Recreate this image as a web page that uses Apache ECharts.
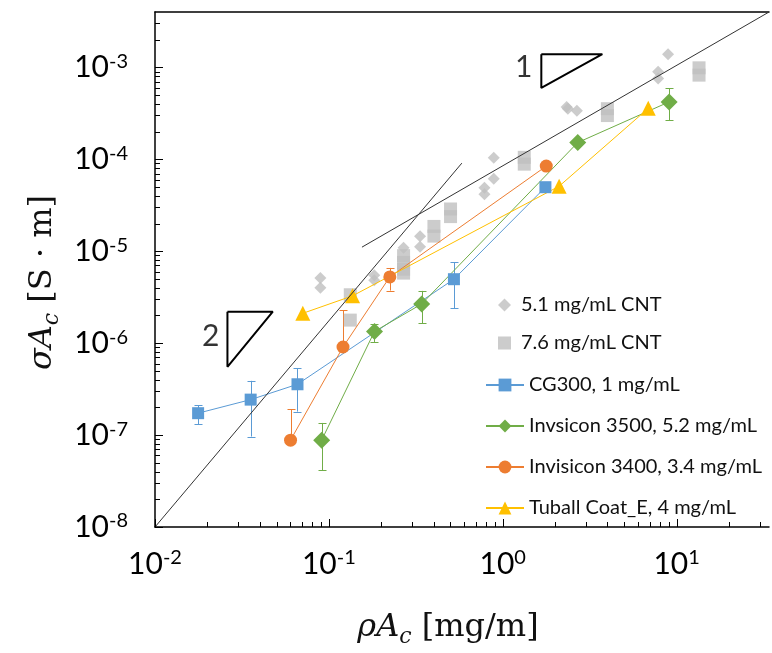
<!DOCTYPE html>
<html><head><meta charset="utf-8">
<script src="https://cdn.jsdelivr.net/npm/echarts@6/dist/echarts.min.js"></script>
<style>html,body{margin:0;padding:0;background:#fff}#c{width:772px;height:653px}</style>
</head><body><div id="c"></div>
<script>
// ---------------- data ----------------
const cnt51Name = '5.1 mg/mL CNT';
const cnt51X = [0.0894, 0.0894, 0.1824, 0.1824, 0.269, 0.3345, 0.3345, 0.785, 0.785, 0.888, 0.888, 2.33, 2.37, 2.67, 7.83, 7.83, 8.93];
const cnt51Y = [5.12e-6, 4.01e-6, 5.47e-6, 4.84e-6, 1.09e-5, 1.45e-5, 1.12e-5, 4.90e-5, 4.16e-5, 1.04e-4, 6.14e-5, 3.70e-4, 3.55e-4, 3.38e-4, 8.95e-4, 7.55e-4, 1.39e-3];

const cnt76Name = '7.6 mg/mL CNT';
const cnt76X = [0.1328, 0.1328, 0.269, 0.269, 0.269, 0.269, 0.402, 0.402, 0.501, 0.501, 1.33, 1.33, 4.0, 4.0, 13.46, 13.46];
const cnt76Y = [3.36e-6, 1.78e-6, 8.95e-6, 7.55e-6, 6.37e-6, 5.78e-6, 1.86e-5, 1.46e-5, 2.88e-5, 2.38e-5, 1.05e-4, 8.85e-5, 3.55e-4, 2.99e-4, 9.88e-4, 8.23e-4];

const cgName = 'CG300, 1 mg/mL';
const cgX  = [0.0177, 0.0355, 0.066, 0.524, 1.76];
const cgY  = [1.73e-7, 2.43e-7, 3.57e-7, 4.96e-6, 4.97e-5];
const cgLo = [1.31e-7, 9.64e-8, 1.80e-7, 2.40e-6, null];
const cgHi = [2.11e-7, 3.89e-7, 5.35e-7, 7.63e-6, null];

const i35Name = 'Invsicon 3500, 5.2 mg/mL';
const i35X  = [0.0909, 0.183, 0.342, 2.70, 9.06];
const i35Y  = [8.81e-8, 1.34e-6, 2.67e-6, 1.52e-4, 4.21e-4];
const i35Lo = [4.14e-8, 1.03e-6, 1.64e-6, null, 2.65e-4];
const i35Hi = [1.355e-7, 1.61e-6, 3.70e-6, null, 5.91e-4];

const i34Name = 'Invisicon 3400, 3.4 mg/mL';
const i34X  = [0.0602, 0.1206, 0.2242, 1.78];
const i34Y  = [8.81e-8, 9.08e-7, 5.25e-6, 8.43e-5];
const i34Lo = [8.81e-8, 9.08e-7, 3.73e-6, null];
const i34Hi = [1.92e-7, 2.29e-6, 6.58e-6, null];

const tbName = 'Tuball Coat_E, 4 mg/mL';
const tbX = [0.0708, 0.1369, 2.11, 6.87];
const tbY = [2.11e-6, 3.27e-6, 5.09e-5, 3.58e-4];

// guide lines (slope 2 and slope 1)
const slope2X = [0.01, 0.582];
const slope2Y = [1e-8, 9.08e-5];
const slope1X = [0.155, 34];
const slope1Y = [1.107e-5, 4e-3];

// slope triangles: [x left, x right, y bottom, y top]
const tri1 = [1.667, 3.74, 5.97e-4, 1.39e-3];
const tri2 = [0.0261, 0.0476, 5.53e-7, 2.2e-6];
const triLabelX = [1.32, 0.0209];
const triLabelY = [9.9e-4, 1.2e-6];
const triLabelText = ['1', '2'];

// axes
const xMin = 0.01, xMax = 34;
const yMin = 1e-8, yMax = 4e-3;
const xMajorTicks = [0.01, 0.1, 1, 10];
const xMinorTicks = [0.02,0.03,0.04,0.05,0.06,0.07,0.08,0.09, 0.2,0.3,0.4,0.5,0.6,0.7,0.8,0.9, 2,3,4,5,6,7,8,9, 20,30];
const yMajorTicks = [1e-8,1e-7,1e-6,1e-5,1e-4,1e-3];
const yMinorTicks = [];
[1e-8,1e-7,1e-6,1e-5,1e-4,1e-3].forEach(function(d){ for (let k=2;k<=9;k++){ const v=d*k; if (v<yMax) yMinorTicks.push(v);} });

const xTitle = '{i|ρA}{sub|c}{r| [mg/m]}';
const yTitle = '{i|σA}{sub|c}{r| [S · m]}';

// ---------------- chart ----------------
const FONT = 'Lato';
const pairs = (xs, ys) => xs.map((x, i) => [x, ys[i]]);

function powLabel(v) {
  const l = Math.log10(v);
  const e = Math.round(l);
  if (Math.abs(l - e) > 1e-6) return '';
  return '{b|10}{s|' + (e < 0 ? '-' + (-e) : e) + '}';
}
const labelRich = {
  b: {fontFamily: FONT, fontSize: 30, color: '#000', lineHeight: 32},
  s: {fontFamily: FONT, fontSize: 20, color: '#000', lineHeight: 18, verticalAlign: 'top'}
};
const titleRich = {
  i: {fontFamily: 'DejaVu Serif', fontStyle: 'italic', fontSize: 32, color: '#111', lineHeight: 40},
  sub: {fontFamily: 'DejaVu Serif', fontStyle: 'italic', fontSize: 22, color: '#111', lineHeight: 26, verticalAlign: 'bottom'},
  r: {fontFamily: 'DejaVu Serif', fontSize: 32, color: '#111', lineHeight: 40}
};

function errSeries(color, xs, lo, hi) {
  const data = [];
  xs.forEach((x, i) => { if (lo[i] != null && hi[i] != null) data.push([x, lo[i], hi[i]]); });
  return {
    type: 'custom', coordinateSystem: 'cartesian2d', z: 1, silent: true,
    encode: {x: 0, y: [1, 2]},
    renderItem: function (params, api) {
      const x = api.value(0);
      const p1 = api.coord([x, api.value(1)]);
      const p2 = api.coord([x, api.value(2)]);
      const cx = Math.round(p1[0]) + 0.5, w = 4;
      const st = {stroke: color, lineWidth: 1};
      return {type: 'group', children: [
        {type: 'line', shape: {x1: cx, y1: p1[1], x2: cx, y2: p2[1]}, style: st},
        {type: 'line', shape: {x1: cx - w, y1: Math.round(p1[1]) + 0.5, x2: cx + w, y2: Math.round(p1[1]) + 0.5}, style: st},
        {type: 'line', shape: {x1: cx - w, y1: Math.round(p2[1]) + 0.5, x2: cx + w, y2: Math.round(p2[1]) + 0.5}, style: st}
      ]};
    },
    data: data
  };
}

function tickSeries(horizontalAxis) {
  const data = horizontalAxis
    ? xMajorTicks.map(v => [v, yMin, 8]).concat(xMinorTicks.map(v => [v, yMin, 5]))
    : yMajorTicks.map(v => [xMin, v, 8]).concat(yMinorTicks.map(v => [xMin, v, 5]));
  return {
    type: 'custom', coordinateSystem: 'cartesian2d', z: 10, silent: true,
    renderItem: function (params, api) {
      const p = api.coord([api.value(0), api.value(1)]);
      const len = api.value(2);
      if (horizontalAxis) {
        const x = Math.round(p[0]) + 0.5;
        return {type: 'line', shape: {x1: x, y1: p[1], x2: x, y2: p[1] - len}, style: {stroke: '#000', lineWidth: 1}};
      } else {
        const y = Math.round(p[1]) + 0.5;
        return {type: 'line', shape: {x1: p[0], y1: y, x2: p[0] + len, y2: y}, style: {stroke: '#000', lineWidth: 1}};
      }
    },
    data: data
  };
}

function triData(t) {
  return [[t[0], t[3]], [t[1], t[3]], [t[0], t[2]], [t[0], t[3]]];
}

const colors = {grey: '#BFBFBF', blue: '#5B9BD5', green: '#70AD47', orange: '#ED7D31', yellow: '#FFC000'};

const option = {
  animation: false,
  backgroundColor: '#fff',
  grid: {left: 155, top: 12, width: 616, height: 530, containLabel: false},
  legend: [
    {data: [cnt51Name, cnt76Name], orient: 'vertical', left: 493, top: 290, itemWidth: 13, itemHeight: 13, itemGap: 18,
     selectedMode: false, textStyle: {fontFamily: FONT, fontSize: 20, color: '#111', padding: [0, 0, 0, 5]}},
    {data: [cgName, i35Name, i34Name, tbName], orient: 'vertical', left: 480, top: 370, itemWidth: 38, itemHeight: 16, itemGap: 21,
     selectedMode: false, textStyle: {fontFamily: FONT, fontSize: 20, color: '#111'}}
  ],
  xAxis: [
    {type: 'log', logBase: 10, min: xMin, max: xMax, position: 'bottom',
     axisLine: {lineStyle: {color: '#000', width: 1.5}}, axisTick: {show: false}, splitLine: {show: false},
     axisLabel: {formatter: powLabel, rich: labelRich, margin: 21, showMinLabel: true, showMaxLabel: true},
     name: xTitle, nameLocation: 'middle', nameGap: 81,
     nameTextStyle: {rich: titleRich, padding: [0, 28, 0, 0]}},
    {type: 'log', logBase: 10, min: xMin, max: xMax, position: 'top',
     axisLine: {show: true, lineStyle: {color: '#000', width: 1.5}}, axisTick: {show: false}, axisLabel: {show: false}, splitLine: {show: false}}
  ],
  yAxis: [
    {type: 'log', logBase: 10, min: yMin, max: yMax,
     axisLine: {lineStyle: {color: '#000', width: 1.5}}, axisTick: {show: false}, splitLine: {show: false},
     axisLabel: {formatter: powLabel, rich: labelRich, margin: 27, showMinLabel: true, showMaxLabel: true},
     name: yTitle, nameLocation: 'middle', nameGap: 92, nameRotate: 90,
     nameTextStyle: {rich: titleRich, padding: [0, 26, 0, 0]}}
  ],
  series: [
    tickSeries(true), tickSeries(false),
    errSeries(colors.blue, cgX, cgLo, cgHi),
    errSeries(colors.green, i35X, i35Lo, i35Hi),
    errSeries(colors.orange, i34X, i34Lo, i34Hi),
    {name: cnt51Name, type: 'scatter', data: pairs(cnt51X, cnt51Y), symbol: 'diamond', symbolSize: 12,
     itemStyle: {color: colors.grey}, z: 2},
    {name: cnt76Name, type: 'scatter', data: pairs(cnt76X, cnt76Y), symbol: 'rect', symbolSize: 13,
     itemStyle: {color: colors.grey}, z: 2},
    {name: cgName, type: 'line', data: pairs(cgX, cgY), symbol: 'rect', symbolSize: 12,
     itemStyle: {color: colors.blue}, lineStyle: {color: colors.blue, width: 1}, z: 3},
    {name: i35Name, type: 'line', data: pairs(i35X, i35Y), symbol: 'diamond', symbolSize: 17,
     itemStyle: {color: colors.green}, lineStyle: {color: colors.green, width: 1}, z: 3},
    {name: i34Name, type: 'line', data: pairs(i34X, i34Y), symbol: 'circle', symbolSize: 13,
     itemStyle: {color: colors.orange}, lineStyle: {color: colors.orange, width: 1}, z: 3},
    {name: tbName, type: 'line', data: pairs(tbX, tbY), symbol: 'triangle', symbolSize: 15,
     itemStyle: {color: colors.yellow}, lineStyle: {color: colors.yellow, width: 1}, z: 3},
    {type: 'line', data: pairs(slope2X, slope2Y), symbol: 'none', silent: true, z: 6,
     lineStyle: {color: '#333', width: 1}},
    {type: 'line', data: pairs(slope1X, slope1Y), symbol: 'none', silent: true, z: 6,
     lineStyle: {color: '#333', width: 1}},
    {type: 'line', data: triData(tri1), symbol: 'none', silent: true, z: 6,
     lineStyle: {color: '#000', width: 2}},
    {type: 'line', data: triData(tri2), symbol: 'none', silent: true, z: 6,
     lineStyle: {color: '#000', width: 2}},
    {type: 'scatter', symbolSize: 0, silent: true, z: 6,
     data: triLabelX.map((x, i) => ({value: [x, triLabelY[i]], name: triLabelText[i]})),
     label: {show: true, position: 'inside', formatter: '{b}', fontFamily: FONT, fontSize: 30, color: '#000'}}
  ]
};
const chart = echarts.init(document.getElementById('c'), null, {renderer: 'canvas'});
chart.setOption(option);
</script>
</body></html>
